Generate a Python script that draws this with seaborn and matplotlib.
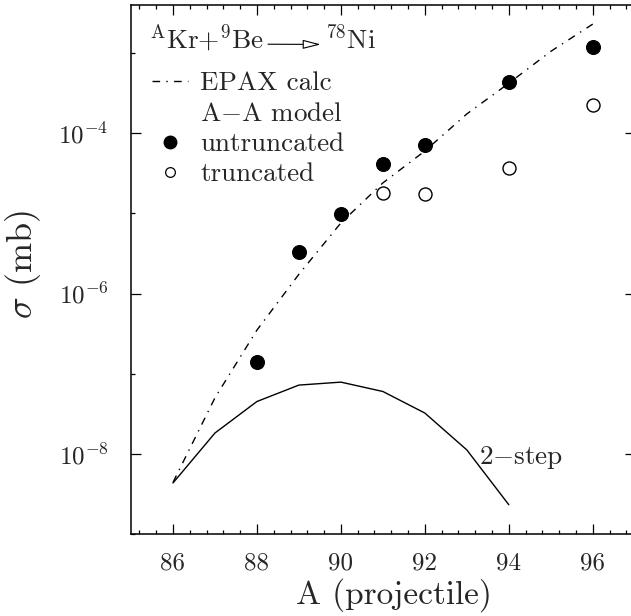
import matplotlib
matplotlib.use("Agg")
import matplotlib.pyplot as plt
from matplotlib.lines import Line2D
from matplotlib.ticker import FixedLocator, FixedFormatter, MultipleLocator, NullFormatter
import numpy as np
import pandas as pd
import seaborn as sns

# ---- data -------------------------------------------------------------
# EPAX systematics (dash-dot curve)
epax_A = [86, 87, 88, 89, 90, 91, 92, 93, 94, 95, 96]
epax_sigma = [4.4e-9, 5.0e-8, 3.5e-7, 1.74e-6, 7.6e-6, 2.4e-5, 6.0e-5,
              1.74e-4, 4.2e-4, 1.05e-3, 2.3e-3]

# two-step reaction estimate (solid curve)
twostep_A = [86, 87, 88, 89, 90, 91, 92, 93, 94]
twostep_sigma = [4.33e-9, 1.82e-8, 4.50e-8, 7.21e-8, 7.85e-8, 6.0e-8,
                 3.23e-8, 1.12e-8, 2.32e-9]

# A-A model, untruncated (filled) and truncated (open)
untrunc_A = [88, 89, 90, 91, 92, 94, 96]
untrunc_sigma = [1.40e-7, 3.34e-6, 9.9e-6, 4.14e-5, 7.14e-5, 4.39e-4, 1.20e-3]
trunc_A = [91, 92, 94, 96]
trunc_sigma = [1.82e-5, 1.73e-5, 3.66e-5, 2.25e-4]

# axis ticks
x_major = [86, 88, 90, 92, 94, 96]
y_major = [1e-8, 1e-6, 1e-4]
y_major_labels = [r"$10^{-8}$", r"$10^{-6}$", r"$10^{-4}$"]
y_minor = [1e-9, 1e-7, 1e-5, 1e-3]

twostep_label = "2$-$step"
twostep_label_pos = (93.3, 10 ** -8.05)

# ---- style ------------------------------------------------------------
sns.set_style("ticks")
plt.rcParams["font.family"] = ["cmr10", "DejaVu Serif"]
plt.rcParams["mathtext.fontset"] = "cm"
plt.rcParams["axes.unicode_minus"] = False
plt.rcParams["axes.formatter.use_mathtext"] = True

TXT = 19.5

fig = plt.figure(figsize=(6.31, 6.16), dpi=100)
ax = fig.add_axes([0.2076, 0.1331, 0.7983, 0.8588])
ax.set_facecolor("white")

dashdot = (0, (5.5, 4.5, 1.0, 4.5))

epax = pd.DataFrame({"A": epax_A, "sigma": epax_sigma})
two = pd.DataFrame({"A": twostep_A, "sigma": twostep_sigma})
unt = pd.DataFrame({"A": untrunc_A, "sigma": untrunc_sigma})
tru = pd.DataFrame({"A": trunc_A, "sigma": trunc_sigma})

sns.lineplot(data=epax, x="A", y="sigma", ax=ax, color="black", lw=1.0,
             linestyle=dashdot)
sns.lineplot(data=two, x="A", y="sigma", ax=ax, color="black", lw=1.0)
sns.scatterplot(data=unt, x="A", y="sigma", ax=ax, s=100, marker="o",
                facecolor="black", edgecolor="black", linewidth=0.8, zorder=5)
sns.scatterplot(data=tru, x="A", y="sigma", ax=ax, s=88, marker="o",
                facecolor="white", edgecolor="black", linewidth=1.0, zorder=5)

ax.set_yscale("log")
ax.set_xlim(85, 97)
ax.set_ylim(1e-9, 10 ** -2.4)

# ticks
ax.xaxis.set_major_locator(FixedLocator(x_major))
ax.xaxis.set_minor_locator(MultipleLocator(0.4))
ax.set_xticklabels([str(v) for v in x_major])
ax.yaxis.set_major_locator(FixedLocator(y_major))
ax.yaxis.set_major_formatter(FixedFormatter(y_major_labels))
ax.yaxis.set_minor_locator(FixedLocator(y_minor))
ax.yaxis.set_minor_formatter(NullFormatter())
ax.tick_params(which="both", direction="in", top=True, right=True,
               width=0.9, color="black")
ax.tick_params(which="major", length=7.2)
ax.tick_params(which="minor", length=2.9)
ax.tick_params(axis="x", which="major", pad=13, labelsize=18)
ax.tick_params(axis="y", which="major", pad=16.3, labelsize=18)
for sp in ax.spines.values():
    sp.set_linewidth(1.1)
    sp.set_color("black")

ax.set_xlabel("A (projectile)", fontsize=24)
ax.set_ylabel(r"$\sigma$ (mb)", fontsize=26)
ax.xaxis.set_label_coords(0.522, -0.0835)
ax.yaxis.set_label_coords(-0.1747, 0.51)

# curve label
ax.text(twostep_label_pos[0], twostep_label_pos[1], twostep_label,
        fontsize=TXT, va="center", ha="left")

# reaction header
t_left = ax.text(0.036, 0.918, r"$^{\rm A}$Kr+$^{9}$Be", transform=ax.transAxes,
                 fontsize=TXT, ha="left", va="baseline")
t_right = ax.text(0.385, 0.918, r"$^{78}$Ni", transform=ax.transAxes,
                  fontsize=TXT, ha="left", va="baseline")
ax.annotate("", xy=(0.0, 0.3), xycoords=t_right, xytext=(1.0, 0.3),
            textcoords=t_left,
            arrowprops=dict(arrowstyle="-|>,head_length=1.1,head_width=0.28",
                            mutation_scale=10, fc="white", ec="black", lw=0.8,
                            shrinkA=3, shrinkB=3))

# legend
handles = [
    Line2D([], [], color="black", lw=1.0, linestyle=dashdot),
    Line2D([], [], linestyle="none", marker=None),
    Line2D([], [], linestyle="none", marker="o", markersize=9,
           markerfacecolor="black", markeredgecolor="black"),
    Line2D([], [], linestyle="none", marker="o", markersize=7,
           markerfacecolor="white", markeredgecolor="black", markeredgewidth=0.9),
]
labels = ["EPAX calc", "A$-$A model", "untruncated", "truncated"]
ax.legend(handles, labels, loc="upper left", bbox_to_anchor=(0.041, 0.875),
          frameon=False, fontsize=TXT, borderpad=0, borderaxespad=0,
          handlelength=1.36, handletextpad=0.43, labelspacing=0.24)

fig.savefig("out.png", dpi=100)
